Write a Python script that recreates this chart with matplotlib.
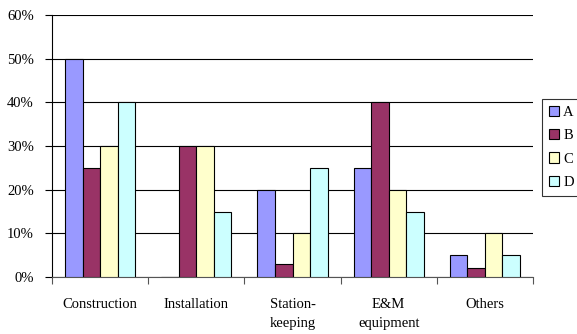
import numpy as np
import matplotlib.pyplot as plt
from matplotlib.ticker import FixedLocator, PercentFormatter

# share of each activity (%), by group
categories = ["Construction", "Installation", "Station-\nkeeping", "E&M\nequipment", "Others"]
series_names = ["A", "B", "C", "D"]
a_vals = [50, 0, 20, 25, 5]
b_vals = [25, 30, 3, 40, 2]
c_vals = [30, 30, 10, 20, 10]
d_vals = [40, 15, 25, 15, 5]
colors = ["#9999FF", "#993366", "#FFFFCC", "#CCFFFF"]

plt.rcParams['font.family'] = ['Liberation Serif', 'DejaVu Serif']
plt.rcParams['font.size'] = 10.5

fig = plt.figure(figsize=(5.77, 3.34), dpi=100)
ax = fig.add_axes([52/577, 1-277/334, (533-52)/577, (277-15)/334])

x = np.arange(len(categories))
w = 0.182
for k, (vals, col, name) in enumerate(zip([a_vals, b_vals, c_vals, d_vals], colors, series_names)):
    ax.bar(x + (k - 1.5)*w, vals, w, color=col, edgecolor='black', linewidth=0.8,
           label=name, zorder=3)

ax.set_ylim(0, 60)
ax.set_xlim(-0.5, len(categories) - 0.5)
ax.set_yticks(np.arange(0, 61, 10))
ax.yaxis.set_major_formatter(PercentFormatter(decimals=0))
ax.grid(axis='y', color='black', linewidth=0.8, zorder=0)
ax.set_axisbelow(True)

# labels centred on the groups, tick marks between the groups
ax.set_xticks(x)
ax.set_xticklabels(categories, linespacing=1.6, va='top')
ax.xaxis.set_minor_locator(FixedLocator(np.arange(-0.5, len(categories), 1)))
ax.tick_params(axis='x', which='major', length=0, pad=15)
ax.tick_params(axis='x', which='minor', length=5, width=0.8, direction='out', color='#555555')
ax.tick_params(axis='y', length=5, width=0.8, direction='out', pad=8)

for s in ['top', 'right']:
    ax.spines[s].set_visible(False)
ax.spines['left'].set_linewidth(0.8)
ax.spines['bottom'].set_linewidth(0.8)
ax.spines['bottom'].set_color('#555555')

leg = fig.legend(loc='upper left', bbox_to_anchor=(542/577, 1-99/334),
                 frameon=True, fancybox=False, edgecolor='black', fontsize=10.5,
                 handlelength=0.7, handleheight=0.7, handletextpad=0.3,
                 labelspacing=0.7, borderpad=0.45, borderaxespad=0)
leg.get_frame().set_linewidth(0.8)

fig.savefig('out.png', dpi=100)
